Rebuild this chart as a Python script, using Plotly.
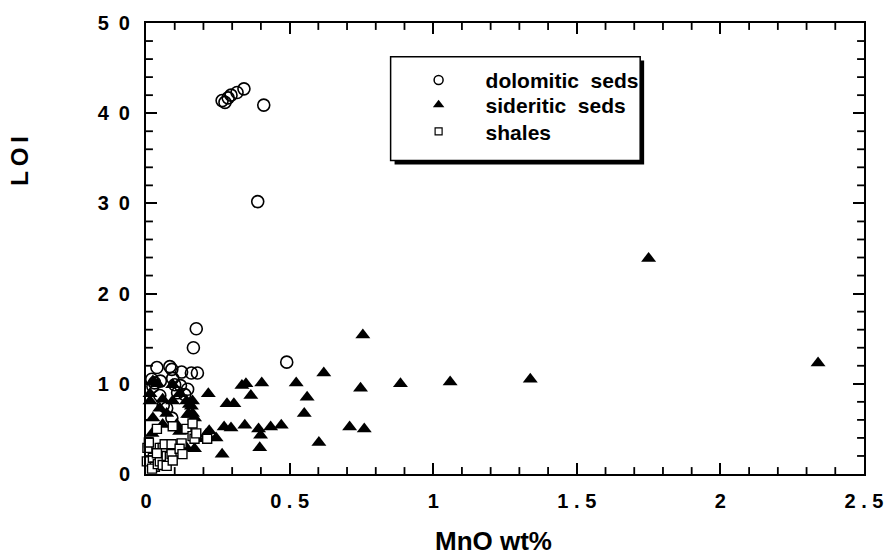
import plotly.graph_objects as go

# MnO (wt%) and loss on ignition (LOI) for each sediment type
dol_mno = [0.265, 0.275, 0.286, 0.296, 0.317, 0.341, 0.410, 0.389, 0.490, 0.175, 0.165,
           0.038, 0.083, 0.090, 0.124, 0.158, 0.179, 0.030, 0.050, 0.024, 0.100, 0.120,
           0.145, 0.135, 0.072, 0.048, 0.093, 0.060, 0.020, 0.110, 0.090]
dol_loi = [41.4, 41.2, 41.7, 42.0, 42.3, 42.7, 40.9, 30.2, 12.4, 16.1, 14.0,
           11.8, 11.9, 11.6, 11.3, 11.2, 11.2, 10.1, 10.3, 9.7, 9.9, 9.8,
           9.4, 8.8, 7.3, 8.7, 10.6, 7.6, 10.5, 9.0, 6.2]

sid_mno = [1.750, 2.340, 1.338, 1.059, 0.886, 0.755, 0.747, 0.760, 0.709, 0.619, 0.602,
           0.561, 0.551, 0.523, 0.471, 0.434, 0.403, 0.399, 0.392, 0.396, 0.365, 0.348,
           0.334, 0.344, 0.306, 0.282, 0.296, 0.272, 0.244, 0.265, 0.220, 0.217,
           0.014, 0.040, 0.024, 0.093, 0.117, 0.141, 0.158, 0.145, 0.169, 0.048, 0.024,
           0.014, 0.117, 0.179, 0.169, 0.107, 0.058, 0.021, 0.141, 0.210, 0.058, 0.093,
           0.162, 0.072, 0.151, 0.162, 0.150]
sid_loi = [23.9, 12.3, 10.5, 10.2, 10.0, 15.4, 9.5, 5.0, 5.2, 11.2, 3.5,
           8.5, 6.7, 10.1, 5.4, 5.2, 10.1, 4.3, 5.0, 2.9, 8.7, 10.0,
           9.8, 5.4, 7.8, 7.8, 5.1, 5.2, 4.0, 2.2, 4.8, 8.9,
           8.9, 10.0, 10.3, 9.9, 8.9, 8.1, 7.5, 6.6, 6.2, 7.3, 6.2,
           8.1, 4.7, 3.9, 2.8, 5.5, 5.5, 4.5, 2.9, 4.4, 8.3, 8.1,
           6.7, 6.7, 7.7, 8.1, 6.6]

sh_mno = [0.005, 0.003, 0.024, 0.031, 0.021, 0.038, 0.041, 0.048, 0.048, 0.058, 0.058,
          0.065, 0.072, 0.072, 0.083, 0.089, 0.089, 0.093, 0.093, 0.124, 0.117, 0.127,
          0.141, 0.162, 0.162, 0.169, 0.175, 0.213, 0.038, 0.010]
sh_loi = [2.9, 1.4, 1.8, 0.8, 0.6, 5.0, 1.1, 2.9, 1.4, 1.0, 2.9,
          3.3, 2.0, 0.9, 1.9, 3.3, 2.2, 5.3, 1.5, 3.4, 2.8, 2.2,
          5.0, 5.6, 4.2, 3.9, 4.5, 3.9, 2.3, 3.5]

x_range = [0, 2.5]
y_range = [0, 50]
# spaced-out tick label text, keyed by plotly's default label
x_labels = {"0.5": "0 . 5", "1.5": "1 . 5", "2.5": "2 . 5"}
y_labels = {"10": "1\u20020", "20": "2\u20020", "30": "3\u20020",
            "40": "4\u20020", "50": "5\u20020"}
# minor tick positions (every 0.1 wt% MnO and every 2 LOI units)
x_minor = [round(0.1 * i, 1) for i in range(1, 25) if i % 5]
y_minor = [v for v in range(2, 50, 2) if v % 10]

legend_names = ["dolomitic\u00a0\u00a0seds", "sideritic\u00a0\u00a0seds", "shales"]

FONT = "Liberation Sans, Arial, Helvetica, sans-serif"

fig = go.Figure()

# data marks
fig.add_trace(go.Scatter(x=sid_mno, y=sid_loi, mode="markers", showlegend=False,
                         cliponaxis=False,
                         marker=dict(symbol="triangle-up", size=13, color="black",
                                     line=dict(width=0))))
fig.add_trace(go.Scatter(x=dol_mno, y=dol_loi, mode="markers", showlegend=False,
                         cliponaxis=False,
                         marker=dict(symbol="circle-open", size=12, color="black",
                                     line=dict(width=1.6))))
fig.add_trace(go.Scatter(x=sh_mno, y=sh_loi, mode="markers", showlegend=False,
                         cliponaxis=False,
                         marker=dict(symbol="square", size=9, color="white",
                                     line=dict(width=1.4, color="black"))))

# legend entries, one legend box each so the row spacing can be set freely
fig.add_trace(go.Scatter(x=[None], y=[None], mode="markers", name=legend_names[0],
                         legend="legend",
                         marker=dict(symbol="circle-open", size=9, color="black",
                                     line=dict(width=1.5))))
fig.add_trace(go.Scatter(x=[None], y=[None], mode="markers", name=legend_names[1],
                         legend="legend2",
                         marker=dict(symbol="triangle-up", size=10, color="black")))
fig.add_trace(go.Scatter(x=[None], y=[None], mode="markers", name=legend_names[2],
                         legend="legend3",
                         marker=dict(symbol="square", size=7, color="white",
                                     line=dict(width=1.2, color="black"))))

axis_common = dict(
    showline=True, linewidth=2, linecolor="black", mirror="ticks",
    ticks="inside", tickcolor="black", ticklen=11, tickwidth=2,
    showgrid=False, zeroline=False,
    tickfont=dict(family=FONT, size=20, color="black", weight="bold"),
)

fig.update_layout(
    xaxis=dict(range=x_range, tickmode="linear", tick0=0, dtick=0.5,
               labelalias=x_labels, ticklabelstandoff=8, **axis_common),
    yaxis=dict(range=y_range, tickmode="linear", tick0=0, dtick=10,
               labelalias=y_labels, ticklabelstandoff=10, **axis_common),
)

# plot area spans 146..871 px horizontally and 18..474 px vertically
PLOT_W, PLOT_H = 725.0, 456.0
MINOR_LEN = 7.0
tick_line = dict(color="black", width=1.8)

# short inside minor ticks on all four sides of the frame
for v in x_minor:
    for y0, y1 in [(0, MINOR_LEN / PLOT_H), (1 - MINOR_LEN / PLOT_H, 1)]:
        fig.add_shape(type="line", xref="x", yref="y domain", layer="above",
                      x0=v, x1=v, y0=y0, y1=y1, line=tick_line)
for v in y_minor:
    for x0, x1 in [(0, MINOR_LEN / PLOT_W), (1 - MINOR_LEN / PLOT_W, 1)]:
        fig.add_shape(type="line", xref="x domain", yref="y", layer="above",
                      x0=x0, x1=x1, y0=v, y1=v, line=tick_line)

# legend frame with a drop shadow
def px_x(p):
    return (p - 146) / PLOT_W

def px_y(p):
    return (474 - p) / PLOT_H

fig.add_shape(type="rect", xref="paper", yref="paper", layer="above",
              x0=px_x(397), x1=px_x(649), y0=px_y(161), y1=px_y(56),
              fillcolor="black", line=dict(width=0))
fig.add_shape(type="rect", xref="paper", yref="paper", layer="above",
              x0=px_x(393), x1=px_x(645), y0=px_y(157), y1=px_y(52),
              fillcolor="white", line=dict(width=1.5, color="black"))

legend_common = dict(xanchor="left", yanchor="middle", bgcolor="rgba(0,0,0,0)",
                     borderwidth=0, itemwidth=84,
                     font=dict(family=FONT, size=21, color="black", weight="bold"))

fig.update_layout(
    width=895, height=556,
    margin=dict(l=146, r=24, t=18, b=82),
    paper_bgcolor="white", plot_bgcolor="white",
    showlegend=True,
    legend=dict(x=px_x(394), y=px_y(76), **legend_common),
    legend2=dict(x=px_x(394), y=px_y(101), **legend_common),
    legend3=dict(x=px_x(394), y=px_y(128), **legend_common),
    annotations=[
        dict(text="MnO wt%", xref="paper", yref="paper", x=px_x(497), y=px_y(542),
             showarrow=False, xanchor="center", yanchor="middle",
             font=dict(family=FONT, size=26, color="black", weight="bold")),
        dict(text="L\u2009O\u2009I", xref="paper", yref="paper", x=px_x(18), y=px_y(157),
             showarrow=False, xanchor="center", yanchor="middle", textangle=-90,
             font=dict(family=FONT, size=24, color="black", weight="bold")),
    ],
)

fig.write_html("out.html")
